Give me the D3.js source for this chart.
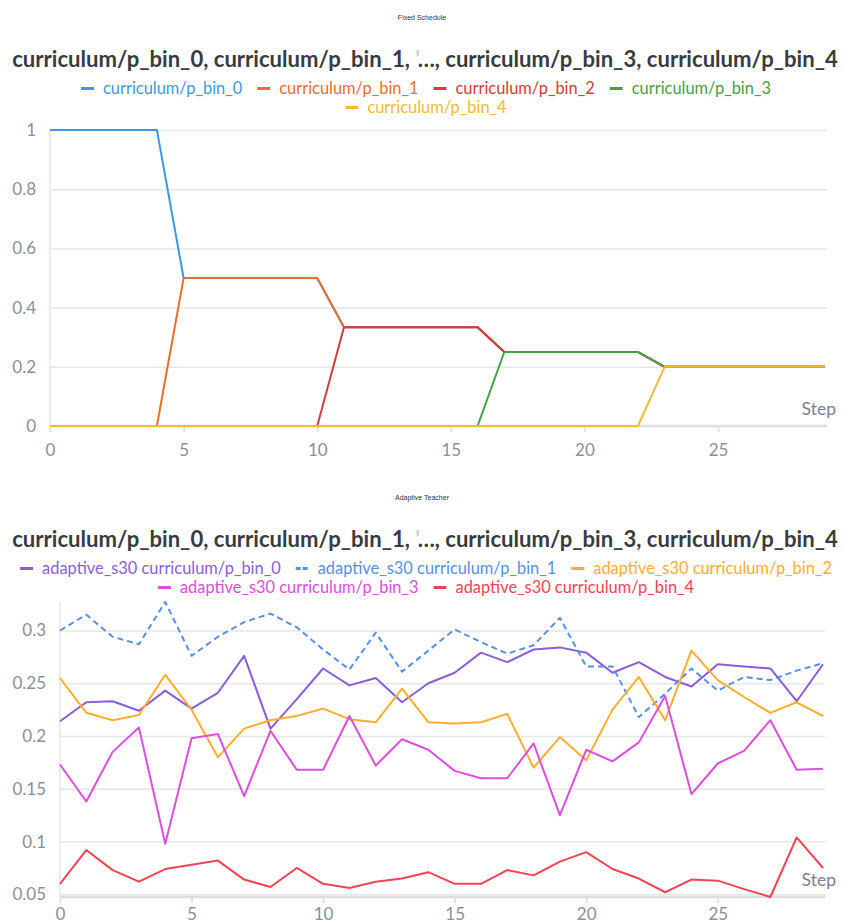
<!DOCTYPE html>
<html>
<head>
<meta charset="utf-8">
<script src="https://cdn.jsdelivr.net/npm/d3@7"></script>
<style>
  body { margin: 0; background: #fff; }
  svg { display: block; font-family: "Source Sans Pro", Lato, "Noto Sans", sans-serif; }
</style>
</head>
<body>
<svg id="chart" width="844" height="924"></svg>
<script>
// ---- data ----
const steps = [0,1,2,3,4,5,6,7,8,9,10,11,12,13,14,15,16,17,18,19,20,21,22,23,24,25,26,27,28,29];

// Fixed Schedule
const fixedNames = ["curriculum/p_bin_0", "curriculum/p_bin_1", "curriculum/p_bin_2", "curriculum/p_bin_3", "curriculum/p_bin_4"];
const fixedBin0 = [1,1,1,1,1,0.5,0.5,0.5,0.5,0.5,0.5,0.3333,0.3333,0.3333,0.3333,0.3333,0.3333,0.25,0.25,0.25,0.25,0.25,0.25,0.2,0.2,0.2,0.2,0.2,0.2,0.2];
const fixedBin1 = [0,0,0,0,0,0.5,0.5,0.5,0.5,0.5,0.5,0.3333,0.3333,0.3333,0.3333,0.3333,0.3333,0.25,0.25,0.25,0.25,0.25,0.25,0.2,0.2,0.2,0.2,0.2,0.2,0.2];
const fixedBin2 = [0,0,0,0,0,0,0,0,0,0,0,0.3333,0.3333,0.3333,0.3333,0.3333,0.3333,0.25,0.25,0.25,0.25,0.25,0.25,0.2,0.2,0.2,0.2,0.2,0.2,0.2];
const fixedBin3 = [0,0,0,0,0,0,0,0,0,0,0,0,0,0,0,0,0,0.25,0.25,0.25,0.25,0.25,0.25,0.2,0.2,0.2,0.2,0.2,0.2,0.2];
const fixedBin4 = [0,0,0,0,0,0,0,0,0,0,0,0,0,0,0,0,0,0,0,0,0,0,0,0.2,0.2,0.2,0.2,0.2,0.2,0.2];
const fixedYTicks = [0, 0.2, 0.4, 0.6, 0.8, 1];

// Adaptive Teacher
const adaptNames = ["adaptive_s30 curriculum/p_bin_0", "adaptive_s30 curriculum/p_bin_1", "adaptive_s30 curriculum/p_bin_2", "adaptive_s30 curriculum/p_bin_3", "adaptive_s30 curriculum/p_bin_4"];
const adaptBin0 = [0.214,0.232,0.233,0.224,0.243,0.226,0.241,0.276,0.207,0.235,0.264,0.248,0.255,0.232,0.250,0.260,0.279,0.270,0.282,0.284,0.279,0.260,0.270,0.256,0.247,0.268,0.266,0.264,0.233,0.268];
const adaptBin1 = [0.300,0.315,0.294,0.287,0.327,0.276,0.294,0.308,0.316,0.303,0.282,0.263,0.298,0.261,0.281,0.301,0.289,0.278,0.286,0.312,0.266,0.266,0.218,0.240,0.264,0.243,0.256,0.253,0.262,0.269];
const adaptBin2 = [0.255,0.222,0.215,0.220,0.258,0.225,0.180,0.207,0.215,0.219,0.226,0.216,0.213,0.245,0.213,0.212,0.213,0.221,0.170,0.199,0.177,0.225,0.256,0.215,0.281,0.253,0.237,0.222,0.232,0.219];
const adaptBin3 = [0.173,0.138,0.185,0.208,0.098,0.198,0.202,0.143,0.205,0.168,0.168,0.219,0.172,0.197,0.187,0.167,0.160,0.160,0.193,0.125,0.187,0.176,0.194,0.238,0.145,0.174,0.186,0.215,0.168,0.169];
const adaptBin4 = [0.060,0.092,0.073,0.062,0.074,0.078,0.082,0.064,0.057,0.075,0.060,0.056,0.062,0.065,0.071,0.060,0.060,0.073,0.068,0.081,0.090,0.074,0.065,0.052,0.064,0.063,0.055,0.0475,0.104,0.075];
const adaptYTicks = [0.05, 0.1, 0.15, 0.2, 0.25, 0.3];

const xTicks = [0, 5, 10, 15, 20, 25];

const svg = d3.select("#chart");
const gridColor = "#e6e6e6";
const tickColor = "#8a8f9a";

function drawChart(cfg) {
	// small heading
	svg.append("text")
		.attr("x", 422).attr("y", cfg.top + 20)
		.attr("text-anchor", "middle")
		.style("font-family", "'Liberation Sans', Arial, sans-serif")
		.style("font-size", "7px")
		.style("fill", "#333")
		.text(cfg.heading);

	// title, fitted to the width
	let title = svg.append("text")
		.attr("x", 425).attr("y", cfg.top + 67)
		.attr("text-anchor", "middle")
		.style("font-size", "21px")
		.style("font-weight", "bold")
		.style("fill", "#383b40");
	title.append("tspan").text("curriculum/p_bin_0, curriculum/p_bin_1, ");
	title.append("tspan").style("fill", "#d0d0d0").text("'");
	title.append("tspan").text("…, curriculum/p_bin_3, curriculum/p_bin_4");
	let tw = title.node().getComputedTextLength();
	title.style("font-size", (21 * 826 / tw) + "px");

	// legend
	const rowY = [cfg.top + 94, cfg.top + 113];
	cfg.legendRows.forEach((row, ri) => {
		let g = svg.append("g");
		let xPos = 0;
		row.forEach(i => {
			let item = g.append("g").attr("transform", "translate(" + xPos + ",0)");
			item.append("line")
				.attr("x1", 0).attr("x2", 13)
				.attr("y1", -5.5).attr("y2", -5.5)
				.style("stroke", cfg.colors[i])
				.style("stroke-width", 3)
				.style("stroke-dasharray", cfg.dashes[i] ? "5,2" : null);
			let t = item.append("text")
				.attr("x", 22).attr("y", 0)
				.style("font-size", "16.4px")
				.style("fill", cfg.colors[i])
				.text(cfg.names[i]);
			xPos += 22 + t.node().getComputedTextLength() + 15;
		});
		let w = xPos - 15;
		g.attr("transform", "translate(" + (426 - w / 2) + "," + rowY[ri] + ")");
	});

	let x = d3.scaleLinear().domain([0, 29]).range([cfg.left, cfg.right]);
	let y = d3.scaleLinear().domain(cfg.yDomain).range([cfg.bottom, cfg.plotTop]);

	// horizontal grid + y labels
	let yAxis = d3.axisLeft(y)
		.tickValues(cfg.yTicks)
		.tickSize(-(cfg.right + 2 - cfg.left))
		.tickPadding(14)
		.tickFormat(d => String(+d.toFixed(2)));
	let gy = svg.append("g")
		.attr("transform", "translate(" + cfg.left + ",0)")
		.call(yAxis);
	gy.select(".domain").remove();
	gy.selectAll(".tick line").style("stroke", gridColor).style("stroke-width", 1.5);
	gy.selectAll(".tick text")
		.style("font-size", "17px")
		.style("fill", tickColor)
		.style("font-family", "'Source Sans Pro', Lato, sans-serif");

	// left axis line
	svg.append("line")
		.attr("x1", cfg.left).attr("x2", cfg.left)
		.attr("y1", cfg.axisTop).attr("y2", cfg.bottom)
		.style("stroke", gridColor).style("stroke-width", 1.5);

	// bottom axis
	let xAxis = d3.axisBottom(x)
		.tickValues(xTicks)
		.tickSize(6)
		.tickPadding(cfg.xPad);
	let gx = svg.append("g")
		.attr("transform", "translate(0," + cfg.baseline + ")")
		.call(xAxis);
	gx.select(".domain").remove();
	gx.selectAll(".tick line").style("stroke", "#dcdcdc").style("stroke-width", 1.5);
	gx.selectAll(".tick text")
		.style("font-size", "17px")
		.style("fill", tickColor)
		.style("font-family", "'Source Sans Pro', Lato, sans-serif");
	svg.append("line")
		.attr("x1", cfg.left).attr("x2", cfg.right + 2)
		.attr("y1", cfg.baseline).attr("y2", cfg.baseline)
		.style("stroke", "#dedede").style("stroke-width", 2.5);

	// step label
	svg.append("text")
		.attr("x", 836).attr("y", cfg.stepY)
		.attr("text-anchor", "end")
		.style("font-size", "17.5px")
		.style("fill", "#7d828d")
		.text("Step");

	// lines
	let line = d3.line()
		.x((d, i) => x(steps[i]))
		.y(d => y(d));

	cfg.series.forEach((s, i) => {
		svg.append("path")
			.datum(s)
			.attr("d", line)
			.style("fill", "none")
			.style("stroke", cfg.colors[i])
			.style("stroke-width", 2)
			.style("stroke-linejoin", "round")
			.style("stroke-dasharray", cfg.dashes[i] ? "6,4" : null);
	});
}

drawChart({
	top: 0,
	heading: "Fixed Schedule",
	names: fixedNames,
	series: [fixedBin0, fixedBin1, fixedBin2, fixedBin3, fixedBin4],
	colors: ["#3f98e0", "#e5702f", "#cf3d3d", "#45a045", "#f0bb35"],
	dashes: [false, false, false, false, false],
	legendRows: [[0, 1, 2, 3], [4]],
	yDomain: [0, 1],
	yTicks: fixedYTicks,
	left: 50, right: 825,
	plotTop: 130, bottom: 426, axisTop: 130, baseline: 426,
	xPad: 12,
	stepY: 415
});

drawChart({
	top: 480,
	heading: "Adaptive Teacher",
	names: adaptNames,
	series: [adaptBin0, adaptBin1, adaptBin2, adaptBin3, adaptBin4],
	colors: ["#8a5ddb", "#5590e6", "#ffad30", "#dc4ee0", "#f04452"],
	dashes: [false, true, false, false, false],
	legendRows: [[0, 1, 2], [3, 4]],
	yDomain: d3.extent([].concat(adaptBin0, adaptBin1, adaptBin2, adaptBin3, adaptBin4)),
	yTicks: adaptYTicks,
	left: 60, right: 823,
	plotTop: 602, bottom: 897, axisTop: 602, baseline: 897,
	xPad: 5,
	stepY: 886
});
</script>
</body>
</html>
